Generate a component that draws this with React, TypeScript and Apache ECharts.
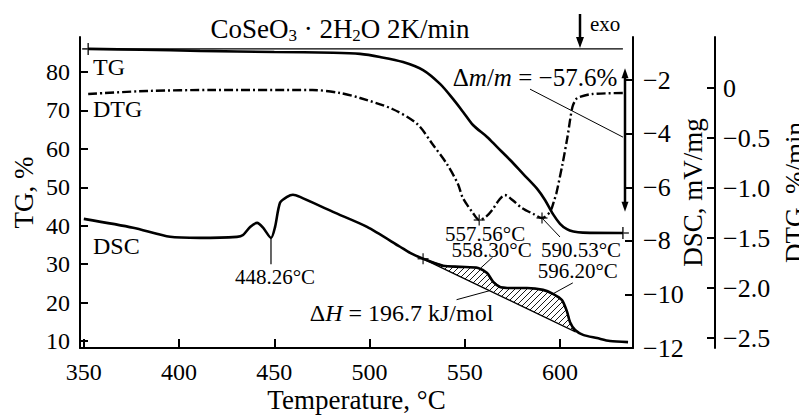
import React, { useEffect, useRef } from 'react';
import * as echarts from 'echarts';

const FONT = '"Liberation Serif", "Times New Roman", serif';

// ---- axis ticks ----
const xTicks = [350, 400, 450, 500, 550, 600];
const tgTicks = [10, 20, 30, 40, 50, 60, 70, 80];
const dscTicks = [-2, -4, -6, -8, -10, -12];
const dtgTicks = [0, -0.5, -1.0, -1.5, -2.0, -2.5];

// ---- series (temperature °C, value) ----
const tgData: number[][] = [
  [352.3, 86.0], [380, 85.8], [411, 85.5], [450, 85.2], [481, 85.0], [495, 84.7],
  [505.5, 83.9], [517.6, 82.6], [528.1, 80.5], [537, 76.9], [543.8, 73.0], [549.1, 69.6],
  [554.3, 66.2], [561.7, 63.1], [566.9, 60.5], [573.8, 57.1], [580.6, 53.5], [588, 49.6],
  [592.1, 46.7], [596.3, 43.0], [600, 40.5], [603.6, 39.1], [607, 38.5], [612, 38.2],
  [633, 38.1],
];
const dtgData: number[][] = [
  [352.3, -0.06], [383, -0.03], [418, -0.02], [470, -0.02], [484.6, -0.05], [495, -0.10],
  [512, -0.21], [525, -0.36], [533, -0.56], [540.6, -0.76], [546.4, -0.96], [549, -1.10],
  [554.3, -1.25], [557.6, -1.32], [561, -1.29], [564.4, -1.22], [568, -1.12], [571, -1.07],
  [575, -1.12], [580, -1.20], [586, -1.26], [590.5, -1.30], [594.7, -1.24], [597, -1.12],
  [598, -1.06], [601.3, -0.76], [603.9, -0.49], [606.5, -0.19], [608.5, -0.11], [610.2, -0.09],
  [617, -0.06], [633, -0.05],
];
const dscData: number[][] = [
  [350, -7.18], [375.9, -7.51], [395.3, -7.85], [411, -7.89], [430.4, -7.85], [433.6, -7.78],
  [437.3, -7.48], [441, -7.33], [444.1, -7.51], [448.3, -7.89], [450.4, -7.48], [453, -6.58],
  [456.7, -6.36], [459.8, -6.28], [463.5, -6.36], [480.8, -6.92], [498.7, -7.48], [516, -8.22],
  [521.3, -8.45], [528.1, -8.67], [538.6, -8.93], [547.5, -8.97], [557, -9.01], [561.7, -9.20],
  [564.9, -9.53], [568.5, -9.72], [573.8, -9.76], [582.7, -9.76], [591.1, -9.83], [596.3, -9.98],
  [601, -10.21], [603.7, -10.65], [605.2, -11.03], [607.9, -11.33], [612.1, -11.51],
  [619.4, -11.63], [626.2, -11.74], [635.7, -11.78],
];
const tgInitialLevel: number[][] = [[352.3, 86.0], [633, 86.0]];
const dscBaseline: number[][] = [[528.1, -8.67], [607.5, -11.38]];
const tgMarks: number[][] = [[352.3, 86.0], [633, 38.1]];
const dtgPeaks: number[][] = [[557.56, -1.32], [590.53, -1.30]];
const dscPeaks: number[][] = [[448.26, -7.9], [558.3, -9.02], [596.2, -9.98]];
const dscBaseMarks: number[][] = [[528.1, -8.67]];
const massArrow: number[][] = [[634.1, 81.0], [634.1, 43.6]];
const massLossText = '−57.6%';
const enthalpyText = '196.7 kJ/mol';

const hatchSvg =
  "<svg xmlns='http://www.w3.org/2000/svg' width='6' height='6'>" +
  "<path d='M-1,7 L7,-1 M-1,1 L1,-1 M5,7 L7,5' stroke='black' stroke-width='0.9' fill='none'/></svg>";
const hatchUrl = 'data:image/svg+xml;charset=utf-8,' + encodeURIComponent(hatchSvg);

const fmtMinus = (v: number, d: number) =>
  v === 0 ? '0' : (v < 0 ? '\u2212' : '') + Math.abs(v).toFixed(d);

export default function App() {
  const ref = useRef<HTMLDivElement>(null);
  useEffect(() => {
    if (!ref.current) return;
    const chart = echarts.init(ref.current, null, { renderer: 'svg' });
    const black = '#000';
    const axisLine = { show: true, onZero: false, lineStyle: { color: black, width: 2 } };
    const tick = (vals: number[], len: number) => ({
      show: true, inside: true, length: len, customValues: vals, lineStyle: { color: black, width: 2 },
    });
    const lbl = { color: black, fontSize: 24, fontFamily: FONT };
    const lblR = { color: black, fontSize: 26, fontFamily: FONT };
    const nameStyle = { color: black, fontSize: 27, fontFamily: FONT };
    const plus = 'path://M5,0L5,10M0,5L10,5';

    const lo = dscBaseline[0][0];
    const hi = dscBaseline[1][0];
    const hatchPoly = [
      dscBaseline[0],
      ...dscData.filter((d) => d[0] > lo && d[0] < hi),
      dscBaseline[1],
    ];

    chart.setOption({
      animation: false,
      grid: { left: 80, right: 166, top: 37, bottom: 67, outerBoundsMode: 'none', containLabel: false },
      xAxis: {
        type: 'value', min: 348, max: 638.3,
        axisLine, axisTick: tick(xTicks, 9),
        axisLabel: { ...lbl, margin: 12, customValues: xTicks },
        splitLine: { show: false },
        name: 'Temperature, °C', nameLocation: 'middle', nameGap: 38, nameMoveOverlap: false,
        nameTextStyle: nameStyle,
      },
      yAxis: [
        {
          type: 'value', position: 'left', min: 8.18, max: 89.1,
          axisLine, axisTick: tick(tgTicks, 8),
          axisLabel: { ...lbl, margin: 10, customValues: tgTicks },
          splitLine: { show: false },
          name: 'TG, %', nameLocation: 'middle', nameRotate: 90, nameGap: 43, nameMoveOverlap: false,
          nameTextStyle: nameStyle,
        },
        {
          type: 'value', position: 'right', offset: 0, min: -12, max: -0.39,
          axisLine, axisTick: tick(dscTicks, 8),
          axisLabel: { ...lblR, margin: 10, customValues: dscTicks, formatter: (v: number) => fmtMinus(v, 0) },
          splitLine: { show: false },
          name: 'DSC, mV/mg', nameLocation: 'middle', nameRotate: 90, nameGap: 46, nameMoveOverlap: false,
          nameTextStyle: nameStyle,
        },
        {
          type: 'value', position: 'right', offset: 82, min: -2.6, max: 0.51,
          axisLine, axisTick: tick(dtgTicks, 8),
          axisLabel: { ...lblR, margin: 8, customValues: dtgTicks, formatter: (v: number) => fmtMinus(v, 1) },
          splitLine: { show: false },
          name: 'DTG, %/min', nameLocation: 'middle', nameRotate: 90, nameGap: 66, nameMoveOverlap: false,
          nameTextStyle: nameStyle,
        },
      ],
      series: [
        {
          type: 'custom', name: 'hatch', xAxisIndex: 0, yAxisIndex: 1, clip: false, silent: true,
          data: [[lo, dscBaseline[0][1]]],
          renderItem: (_p: any, api: any) => ({
            type: 'polygon',
            shape: { points: hatchPoly.map((d) => api.coord(d)) },
            style: {
              fill: { image: hatchUrl, repeat: 'repeat', imageWidth: 6, imageHeight: 6 },
              stroke: black, lineWidth: 1.4,
            },
          }),
        },
        {
          type: 'line', name: 'TG start', yAxisIndex: 0, data: tgInitialLevel, showSymbol: false,
          lineStyle: { color: black, width: 1.2 }, silent: true,
        },
        {
          type: 'line', name: 'TG', yAxisIndex: 0, data: tgData, showSymbol: false, smooth: 0.3,
          lineStyle: { color: black, width: 2.6 }, silent: true,
        },
        {
          type: 'line', name: 'DTG', yAxisIndex: 2, data: dtgData, showSymbol: false, smooth: 0.3,
          lineStyle: { color: black, width: 2.4, type: [9, 3, 2, 3] }, silent: true,
        },
        {
          type: 'line', name: 'DSC', yAxisIndex: 1, data: dscData, showSymbol: false, smooth: 0.25,
          lineStyle: { color: black, width: 2.6 }, silent: true,
        },
        {
          type: 'scatter', yAxisIndex: 0, data: tgMarks, symbol: plus, symbolSize: 12, silent: true,
          itemStyle: { color: 'transparent', borderColor: black, borderWidth: 1.6 },
        },
        {
          type: 'scatter', yAxisIndex: 2, data: dtgPeaks, symbol: plus, symbolSize: 11, silent: true,
          itemStyle: { color: 'transparent', borderColor: black, borderWidth: 1.4 },
        },
        {
          type: 'scatter', yAxisIndex: 1, data: dscBaseMarks, symbol: plus, symbolSize: 11, silent: true,
          itemStyle: { color: 'transparent', borderColor: black, borderWidth: 1.4 },
        },
      ],
    });

    const px = (axis: number, d: number[]) =>
      chart.convertToPixel({ xAxisIndex: 0, yAxisIndex: axis } as any, d) as number[];
    const txt = (text: string, x: number, y: number, size = 21, align = 'center', extra: any = {}) => ({
      type: 'text', x, y, silent: true,
      style: { text, fill: black, fontSize: size, fontFamily: FONT, align, verticalAlign: 'middle', ...extra },
    });
    const seg = (a: number[], b: number[], w = 1) => ({
      type: 'line', silent: true,
      shape: { x1: a[0], y1: a[1], x2: b[0], y2: b[1] },
      style: { stroke: black, lineWidth: w },
    });
    const add = (a: number[], dx: number, dy: number) => [a[0] + dx, a[1] + dy];

    const g: any[] = [];
    // title
    g.push({
      type: 'text', x: 340, y: 29, silent: true,
      style: {
        text: '{a|CoSeO}{s|3}{a| · 2H}{s|2}{a|O 2K/min}',
        align: 'center', verticalAlign: 'middle', fill: black,
        rich: {
          a: { fontSize: 27, fontFamily: FONT, lineHeight: 30, verticalAlign: 'middle', fill: black },
          s: { fontSize: 17, fontFamily: FONT, lineHeight: 14, verticalAlign: 'bottom', fill: black },
        },
      },
    });
    // exo arrow
    g.push(seg([580, 14], [580, 40], 2.5));
    g.push({ type: 'polygon', silent: true, shape: { points: [[576, 37], [584, 37], [580, 48]] }, style: { fill: black } });
    g.push(txt('exo', 590, 24, 21, 'left'));

    // curve labels
    g.push(txt('TG', 93, 67, 24, 'left'));
    g.push(txt('DTG', 93, 109, 24, 'left'));
    g.push(txt('DSC', 93, 246, 24, 'left'));

    // DSC 448.26
    const p1 = px(1, dscPeaks[0]);
    g.push(seg(p1, add(p1, 0, 26), 1.2));
    g.push(txt('448.26°C', p1[0] + 4, p1[1] + 39));
    // DTG 557.56
    const p2 = px(2, dtgPeaks[0]);
    g.push(txt('557.56°C', p2[0] + 6, p2[1] + 14));
    // DSC 558.30
    const p3 = px(1, dscPeaks[1]);
    g.push(seg(p3, add(p3, 12, -11), 1));
    g.push(txt('558.30°C', p3[0] + 11, p3[1] - 18));
    // DTG 590.53
    const p4 = px(2, dtgPeaks[1]);
    g.push(seg(p4, add(p4, 18, 19), 1));
    g.push(txt('590.53°C', p4[0] + 39, p4[1] + 32));
    // DSC 596.20
    const p5 = px(1, dscPeaks[2]);
    g.push(seg(p5, add(p5, 20, -11), 1));
    g.push(txt('596.20°C', p5[0] + 25, p5[1] - 23));
    // ΔH
    const bA = dscBaseline[0], bB = dscBaseline[1];
    const tH = 563;
    const vH = bA[1] + ((tH - bA[0]) * (bB[1] - bA[1])) / (bB[0] - bA[0]);
    const pH = px(1, [tH, vH]);
    g.push(seg(add(pH, -33, 9), pH, 1));
    g.push({
      type: 'text', x: pH[0] - 88, y: pH[1] + 22, silent: true,
      style: {
        text: '{r|Δ}{i|H}{r| = ' + enthalpyText + '}', align: 'center', verticalAlign: 'middle',
        rich: {
          r: { fontSize: 24, fontFamily: FONT, fill: black },
          i: { fontSize: 24, fontFamily: FONT, fontStyle: 'italic', fill: black },
        },
      },
    });
    // mass-loss arrow
    const mTop = px(0, massArrow[0]);
    const mBot = px(0, massArrow[1]);
    g.push(seg(add(mTop, 0, 8), add(mBot, 0, -8), 2.5));
    g.push({ type: 'polygon', silent: true, shape: { points: [[mTop[0] - 3.5, mTop[1] + 10], [mTop[0] + 3.5, mTop[1] + 10], [mTop[0], mTop[1]]] }, style: { fill: black } });
    g.push({ type: 'polygon', silent: true, shape: { points: [[mBot[0] - 3.5, mBot[1] - 10], [mBot[0] + 3.5, mBot[1] - 10], [mBot[0], mBot[1]]] }, style: { fill: black } });
    const mMid = [mTop[0] - 2, mTop[1] + 69];
    g.push(seg(add(mMid, -93, -48), mMid, 1));
    g.push({
      type: 'text', x: mMid[0] - 88, y: mMid[1] - 60, silent: true,
      style: {
        text: '{r|Δ}{i|m}{r|/}{i|m}{r| = ' + massLossText + '}', align: 'center', verticalAlign: 'middle',
        rich: {
          r: { fontSize: 25, fontFamily: FONT, fill: black },
          i: { fontSize: 25, fontFamily: FONT, fontStyle: 'italic', fill: black },
        },
      },
    });

    chart.setOption({ graphic: g });
    return () => chart.dispose();
  }, []);

  return (
    <div
      ref={ref}
      style={{ position: 'fixed', left: 0, top: 0, width: 799, height: 415, background: '#fff' }}
    />
  );
}
